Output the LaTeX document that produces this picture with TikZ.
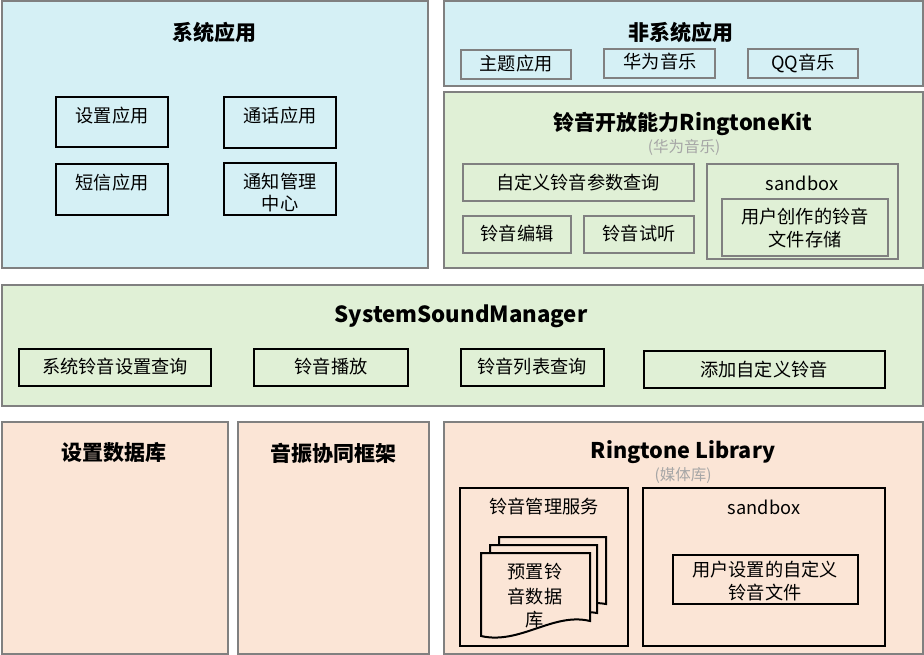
\documentclass[tikz,border=0pt]{standalone}
\usepackage{fontspec}
\setmainfont{Noto Sans CJK SC}
\usetikzlibrary{fit}
\definecolor{cyanfill}{HTML}{D5F0F5}
\definecolor{greenfill}{HTML}{E0F0D6}
\definecolor{peachfill}{HTML}{FBE5D6}
\definecolor{bordergray}{HTML}{808080}
\definecolor{subgray}{HTML}{A6A6A6}
\tikzset{
  outerbox/.style={draw=bordergray, line width=2pt, inner sep=0pt, outer sep=0pt},
  graybox/.style={draw=bordergray, line width=2pt, inner sep=0pt, outer sep=0pt},
  blackbox/.style={draw=black, line width=2pt, inner sep=0pt, outer sep=0pt},
  lbl/.style={font=\fontsize{18.2}{22}\selectfont, inner sep=0pt, align=center},
  ttl/.style={font=\fontsize{21}{25}\selectfont\bfseries, inner sep=0pt},
  sub/.style={font=\fontsize{15.5}{18}\selectfont, text=subgray, inner sep=0pt},
}
\begin{document}
\begin{tikzpicture}[x=1pt,y=-1pt]
\useasboundingbox (0,0) rectangle (924,655);
% outer boxes
\node[outerbox, fill=cyanfill, fit={(1.5,1.5)(427.5,268.5)}] (sys) {};
\node[outerbox, fill=cyanfill, fit={(443.5,1.5)(922.5,86.5)}] (nonsys) {};
\node[outerbox, fill=greenfill, fit={(443.5,92.5)(922.5,268.5)}] (kit) {};
\node[outerbox, fill=greenfill, fit={(1.5,284.5)(922.5,405.5)}] (ssm) {};
\node[outerbox, fill=peachfill, fit={(1.5,421.5)(227.5,653.5)}] (db) {};
\node[outerbox, fill=peachfill, fit={(237.5,421.5)(428.5,653.5)}] (vib) {};
\node[outerbox, fill=peachfill, fit={(443.5,421.5)(922.5,653.5)}] (lib) {};

% system apps
\node[ttl] (systtl) at (214,32) {系统应用};
\node[blackbox, fit={(56,97)(168,147)}] (setapp) {};
\node[blackbox, fit={(224,97)(336,148)}] (callapp) {};
\node[blackbox, fit={(56,164)(168,215)}] (smsapp) {};
\node[blackbox, fit={(224,163)(336,215)}] (notiapp) {};
\node[lbl] (setapptxt) at (112,116) {设置应用};
\node[lbl] (callapptxt) at (280,116) {通话应用};
\node[lbl] (smsapptxt) at (112,183) {短信应用};
\node[lbl] (notiapptxt1) at (280,182) {通知管理};
\node[lbl] (notiapptxt2) at (280,204) {中心};

% non-system apps
\node[ttl] (nonsysttl) at (681,32) {非系统应用};
\node[graybox, fit={(461,50)(571,79)}] (theme) {};
\node[graybox, fit={(604,49)(715,78)}] (hwmusic) {};
\node[graybox, fit={(748,49)(858,78)}] (qqmusic) {};
\node[lbl] (themetxt) at (516,64) {主题应用};
\node[lbl] (hwmusictxt) at (660,62) {华为音乐};
\node[lbl] (qqmusictxt) at (803,63) {QQ音乐};

% RingtoneKit
\node[ttl] (kitttl) at (683,124) {铃音开放能力\fontsize{21.8}{25}\selectfont RingtoneKit};
\node[sub] (kitsub) at (684,147) {(华为音乐)};
\node[graybox, fit={(463,164)(694,201)}] (param) {};
\node[graybox, fit={(463,216)(571,253)}] (edit) {};
\node[graybox, fit={(584,216)(694,253)}] (listen) {};
\node[graybox, fit={(707,164)(898,259)}] (kitsand) {};
\node[graybox, fit={(722,199)(888,256)}] (kitstore) {};
\node[lbl] (paramtxt) at (578,183) {自定义铃音参数查询};
\node[lbl] (edittxt) at (517,234) {铃音编辑};
\node[lbl] (listentxt) at (639,234) {铃音试听};
\node[lbl] (kitsandtxt) at (802,183) {sandbox};
\node[lbl] (kitstore1) at (805,217) {用户创作的铃音};
\node[lbl] (kitstore2) at (805,240) {文件存储};

% SystemSoundManager
\node[ttl, font=\fontsize{22.2}{26}\selectfont\bfseries] (ssmttl) at (461,316) {SystemSoundManager};
\node[blackbox, fit={(19,349)(211,386)}] (sysquery) {};
\node[blackbox, fit={(254,349)(408,386)}] (play) {};
\node[blackbox, fit={(461,349)(604,386)}] (listq) {};
\node[blackbox, fit={(644,351)(885,388)}] (addcustom) {};
\node[lbl] (sysquerytxt) at (115,367) {系统铃音设置查询};
\node[lbl] (playtxt) at (331,367) {铃音播放};
\node[lbl] (listqtxt) at (532,367) {铃音列表查询};
\node[lbl] (addcustomtxt) at (764,370) {添加自定义铃音};

% bottom row
\node[ttl] (dbttl) at (114,453) {设置数据库};
\node[ttl] (vibttl) at (333,453) {音振协同框架};
\node[ttl, font=\fontsize{21.6}{25}\selectfont\bfseries] (libttl) at (683,452) {Ringtone Library};
\node[sub] (libsub) at (683,476) {(媒体库)};
\node[blackbox, fit={(460,488)(628,646)}] (mgr) {};
\node[blackbox, fit={(643,488)(885,646)}] (libsand) {};
\node[blackbox, fit={(673,555)(858,604)}] (userfile) {};
\node[lbl] (mgrtxt) at (544,507) {铃音管理服务};
\node[lbl] (libsandtxt) at (764,507) {sandbox};
\node[lbl] (userfile1) at (765,570) {用户设置的自定义};
\node[lbl] (userfile2) at (765,593) {铃音文件};

% multi-document
\draw[line width=2pt, fill=peachfill] (499,537) -- (606,537) -- (606,604)
  .. controls (570,598) and (535,620) .. (499,612) -- cycle;
\draw[line width=2pt, fill=peachfill] (490,545) -- (597,545) -- (597,613)
  .. controls (561,607) and (526,629) .. (490,621) -- cycle;
\draw[line width=2pt, fill=peachfill] (481,553) -- (590,553) -- (590,621)
  .. controls (553,612) and (520,645) .. (481,636) -- cycle;
\node[lbl] (doc1) at (535,572) {预置铃};
\node[lbl] (doc2) at (535,597) {音数据};
\node[lbl] (doc3) at (535,620) {库};
\end{tikzpicture}
\end{document}
